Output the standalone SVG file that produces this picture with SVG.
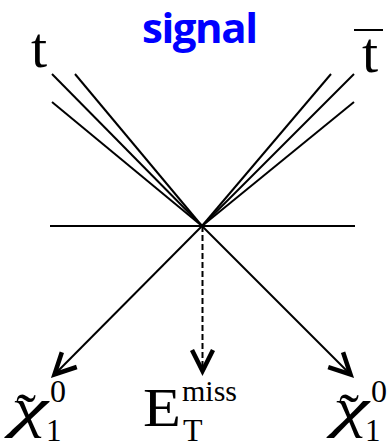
<svg xmlns="http://www.w3.org/2000/svg" width="389" height="443" viewBox="0 0 389 443">
<style>
.ln{stroke:#000;stroke-width:2;fill:none}
.ar{stroke:#000;stroke-width:2;fill:none;marker-end:url(#ah)}
.dash{stroke-dasharray:6 3}
.tx{font-family:"Liberation Serif","Times New Roman",serif;fill:#000}
.it{font-style:italic}
.sig{font-family:"Open Sans","DejaVu Sans",sans-serif;font-weight:bold;fill:#0000ff}
</style>
<defs>
<marker id="ah" markerUnits="userSpaceOnUse" markerWidth="40" markerHeight="30" viewBox="-30 -15 40 30" refX="0" refY="0" orient="auto" overflow="visible">
<path d="M-21,-10.5 L0,0 L-21,10.5" fill="none" stroke="#000" stroke-width="4.5" stroke-linejoin="miter"/>
</marker>
</defs>
<g id="title"><text class="sig" x="200" y="43" font-size="42" text-anchor="middle" textLength="116">signal</text></g>
<g id="t"><text class="tx" x="31" y="67" font-size="58">t</text></g>
<g id="tbar"><text class="tx" x="362" y="72" font-size="58">t</text><line class="ln" x1="354" y1="30" x2="383" y2="30"/></g>
<g id="connectors">
<line class="ln" x1="52" y1="74" x2="202" y2="226"/>
<line class="ln" x1="75" y1="74" x2="202" y2="226"/>
<line class="ln" x1="52" y1="102" x2="202" y2="226"/>
<line class="ln" x1="331" y1="74" x2="202" y2="226"/>
<line class="ln" x1="354" y1="74" x2="202" y2="226"/>
<line class="ln" x1="354" y1="102" x2="202" y2="226"/>
<line class="ln" x1="50" y1="226" x2="355" y2="226"/>
<line class="ar" x1="202" y1="226" x2="54.5" y2="374.5"/>
<line class="ar" x1="202" y1="226" x2="350.5" y2="374.5"/>
<line class="ar dash" x1="202.5" y1="226" x2="202.5" y2="371"/>
</g>
<g id="chi-left">
<text class="tx it" x="11" y="426" font-size="54" textLength="37" lengthAdjust="spacingAndGlyphs">χ</text>
<text class="tx" x="16" y="433" font-size="56" textLength="20" lengthAdjust="spacingAndGlyphs">˜</text>
<text class="tx" x="50" y="402" font-size="32">0</text>
<text class="tx" x="46" y="441" font-size="31">1</text>
</g>
<g id="met">
<text class="tx" x="143" y="426" font-size="55" textLength="38" lengthAdjust="spacingAndGlyphs">E</text>
<text class="tx" x="182" y="401" font-size="30">miss</text>
<text class="tx" x="183" y="441" font-size="32">T</text>
</g>
<g id="chi-right">
<text class="tx it" x="333" y="426" font-size="54" textLength="36" lengthAdjust="spacingAndGlyphs">χ</text>
<text class="tx" x="339" y="433" font-size="56" textLength="20" lengthAdjust="spacingAndGlyphs">˜</text>
<text class="tx" x="371" y="402" font-size="32">0</text>
<text class="tx" x="365" y="441" font-size="31">1</text>
</g>
</svg>
